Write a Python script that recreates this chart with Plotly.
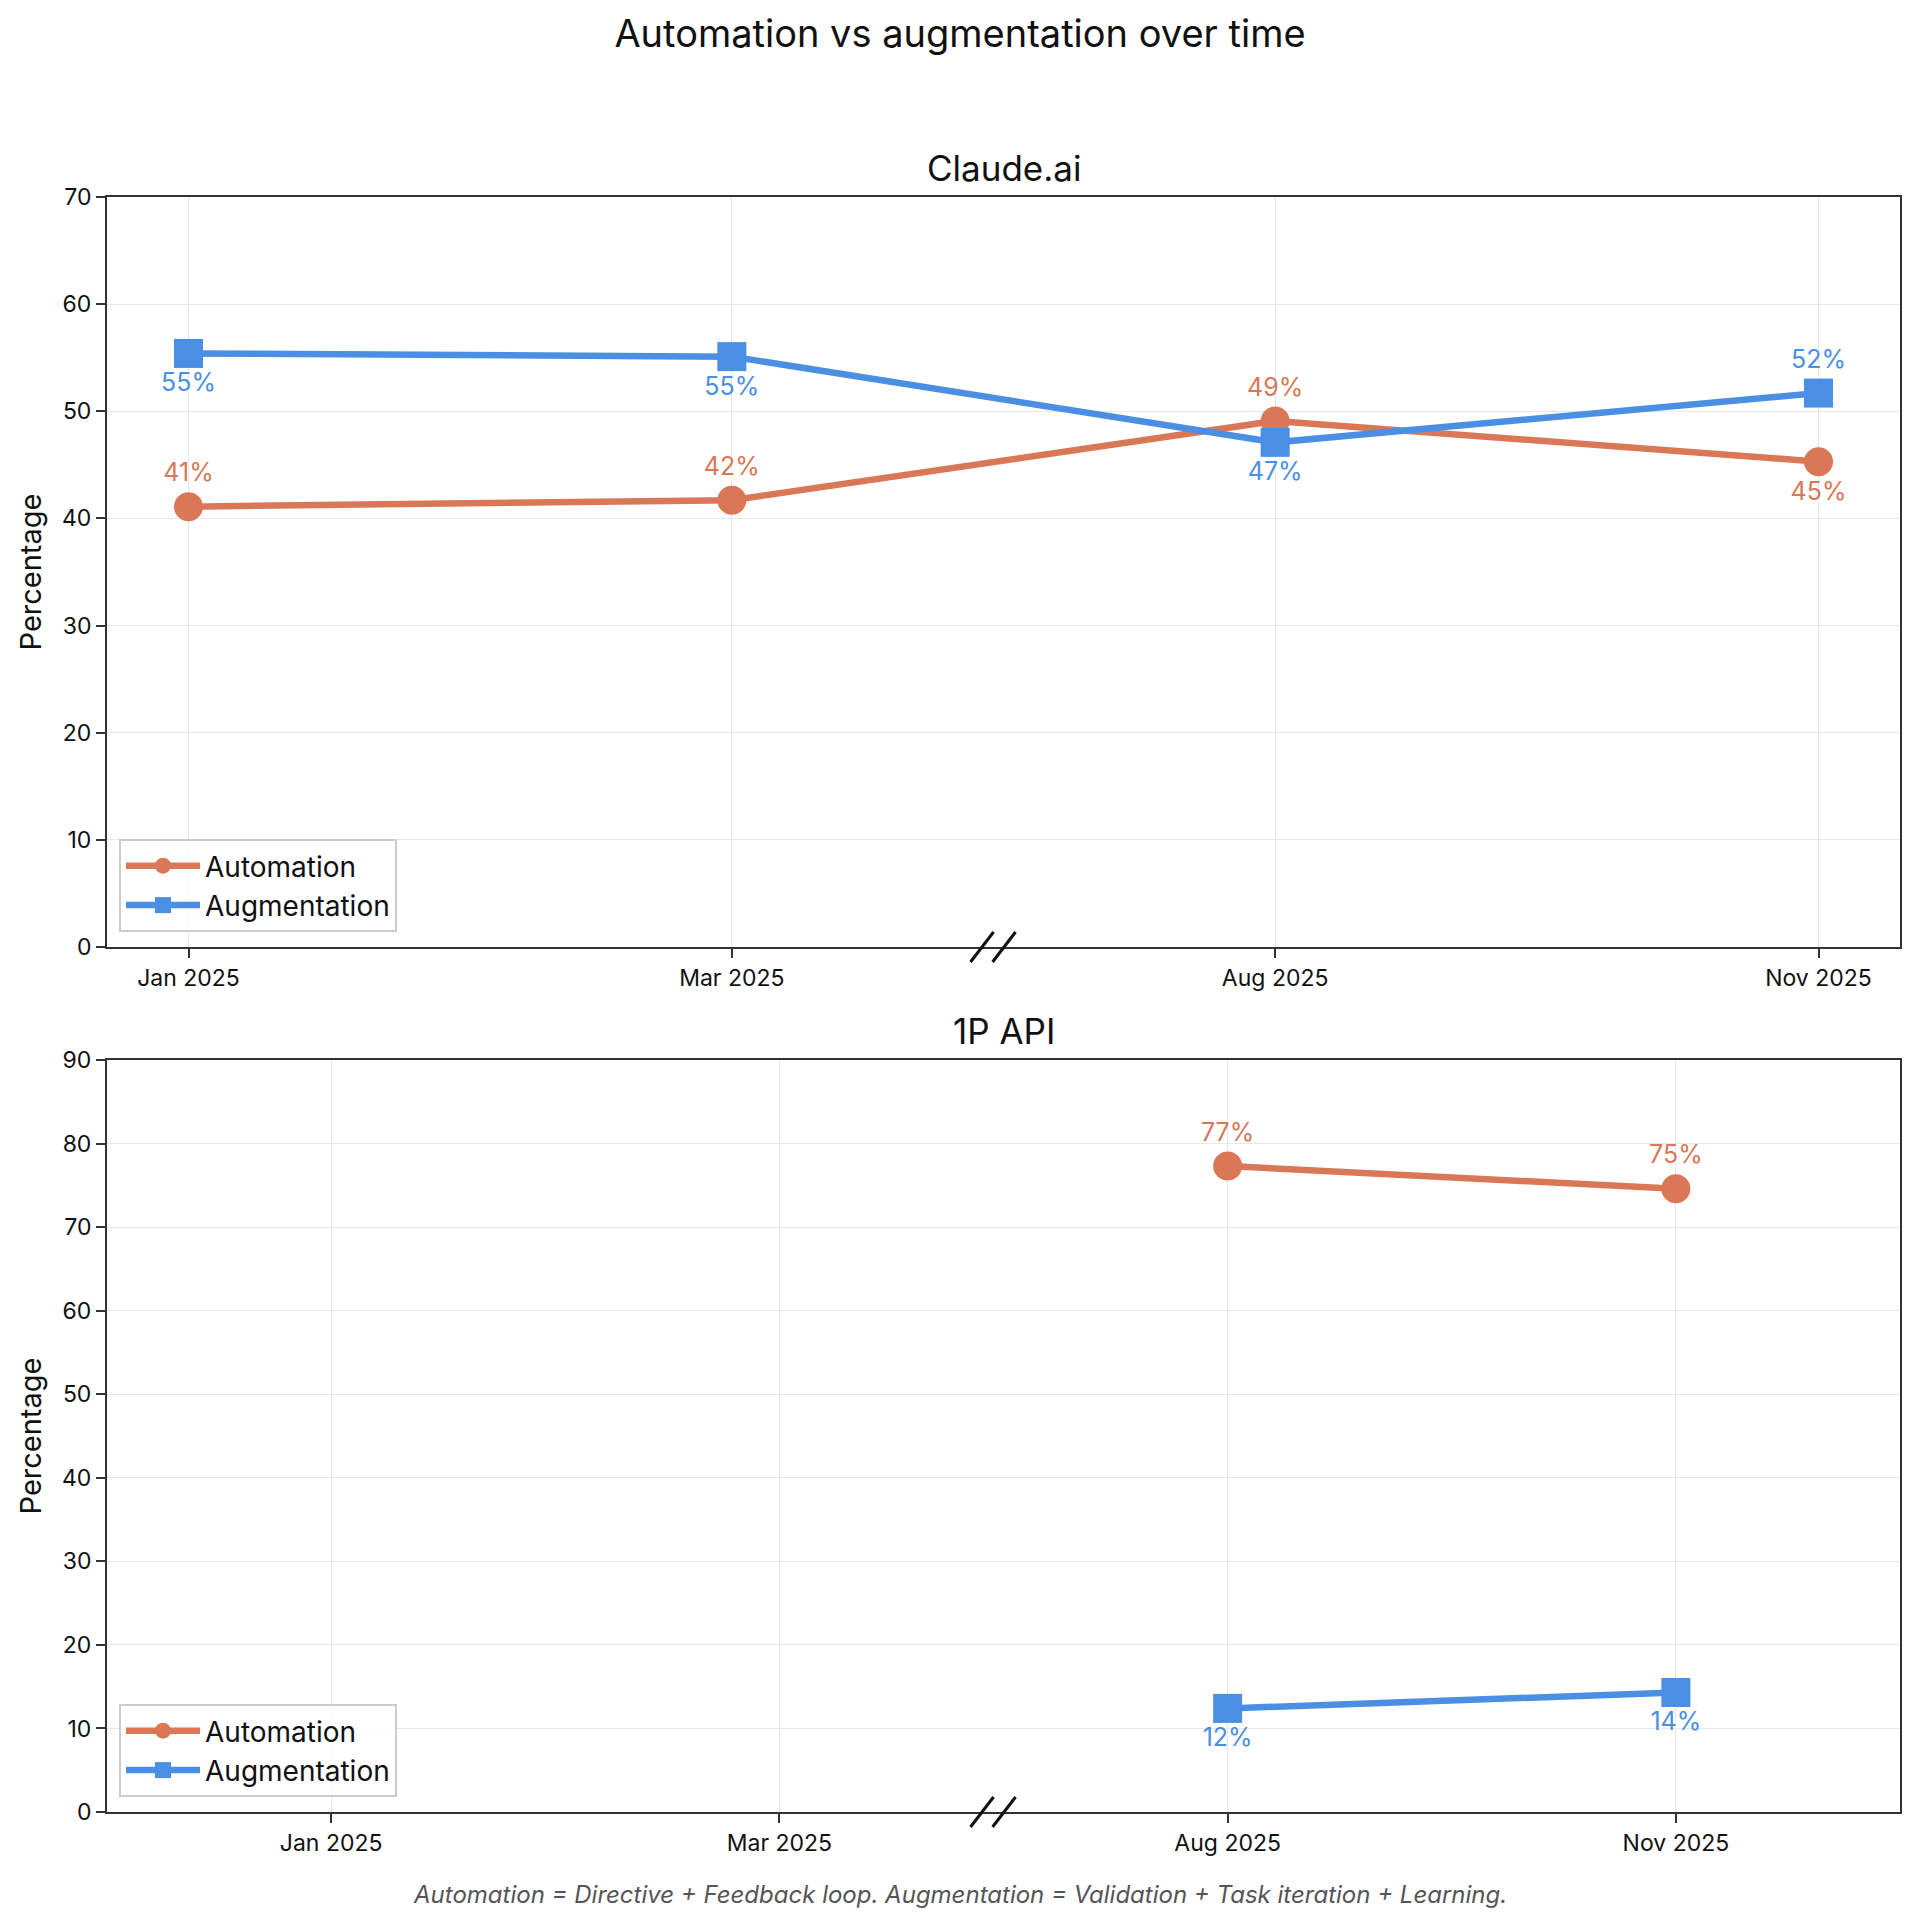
import plotly.graph_objects as go
from plotly.subplots import make_subplots

# ---- data ----
periods = ["Jan 2025", "Mar 2025", "Aug 2025", "Nov 2025"]

claude_automation = [41.1, 41.7, 49.1, 45.3]
claude_augmentation = [55.4, 55.1, 47.1, 51.7]
claude_automation_labels = ["41%", "42%", "49%", "45%"]
claude_augmentation_labels = ["55%", "55%", "47%", "52%"]

api_periods = ["Aug 2025", "Nov 2025"]
api_automation = [77.3, 74.6]
api_augmentation = [12.4, 14.3]
api_automation_labels = ["77%", "75%"]
api_augmentation_labels = ["12%", "14%"]

title_text = "Automation vs augmentation over time"
subplot_titles = ["Claude.ai", "1P API"]
footnote = "Automation = Directive + Feedback loop. Augmentation = Validation + Task iteration + Learning."

# ---- style ----
ORANGE = "#D97757"
BLUE = "#4A8FE3"
FONT = "Inter"
OFF = 8  # page body margin
W, H = 1920 - OFF, 1929 - OFF

# target pixel positions (page coordinates)
PL, PR = 107, 1900
TOP1, BOT1 = 197, 947
TOP2, BOT2 = 1060, 1812

idx = {p: i for i, p in enumerate(periods)}
x_claude = list(range(len(periods)))
x_api = [idx[p] for p in api_periods]

fig = make_subplots(rows=2, cols=1, subplot_titles=subplot_titles, vertical_spacing=0.07)

def add_series(row, x, y, labels, name, color, symbol, positions, legend):
    fig.add_trace(go.Scatter(
        x=x, y=y, mode="lines+markers+text", name=name,
        text=labels, textposition=positions,
        textfont=dict(color=color, size=25, family=FONT),
        line=dict(color=color, width=6.5),
        marker=dict(color=color, size=29, symbol=symbol),
        legend=legend, cliponaxis=False,
    ), row=row, col=1)

add_series(1, x_claude, claude_automation, claude_automation_labels, "Automation", ORANGE, "circle",
           ["top center", "top center", "top center", "bottom center"], "legend")
add_series(1, x_claude, claude_augmentation, claude_augmentation_labels, "Augmentation", BLUE, "square",
           ["bottom center", "bottom center", "bottom center", "top center"], "legend")
add_series(2, x_api, api_automation, api_automation_labels, "Automation", ORANGE, "circle",
           ["top center", "top center"], "legend2")
add_series(2, x_api, api_augmentation, api_augmentation_labels, "Augmentation", BLUE, "square",
           ["bottom center", "bottom center"], "legend2")

axis_common = dict(
    showline=True, linecolor="#333333", linewidth=2, mirror=True,
    ticks="outside", ticklen=9, tickwidth=1.5, tickcolor="#333333",
    showgrid=True, gridcolor="#E8E8E8", gridwidth=1,
    tickfont=dict(size=23, family=FONT, color="#111111"), zeroline=False,
)

fig.update_xaxes(**axis_common, tickvals=x_claude, ticktext=periods)
fig.update_xaxes(range=[-0.15, 3.15], row=1, col=1)
fig.update_xaxes(range=[-0.5, 3.5], row=2, col=1)
fig.update_yaxes(**axis_common, dtick=10,
                 title=dict(text="Percentage", font=dict(size=29, family=FONT, color="#111111"), standoff=12))
fig.update_yaxes(range=[0, 70], row=1, col=1)
fig.update_yaxes(range=[0, 90], row=2, col=1)

m_l, m_r = PL - OFF, 1920 - PR
m_t, m_b = TOP1 - OFF, 1929 - BOT2
ph = BOT2 - TOP1
pw = PR - PL
d2_top = (BOT2 - TOP2) / ph
fig.update_layout(
    yaxis=dict(domain=[(BOT2 - BOT1) / ph, 1]),
    yaxis2=dict(domain=[0, d2_top]),
)

# subplot title fonts
for ann in fig.layout.annotations:
    ann.font = dict(size=35, family=FONT, color="#111111")
    ann.yshift = 6
fig.layout.annotations[0].y = 1
fig.layout.annotations[1].y = d2_top

# axis break marks
for xr, yr in [("x domain", "y domain"), ("x2 domain", "y2 domain")]:
    for x0 in (-24, -2):
        fig.add_shape(type="line", xref=xr, yref=yr, xsizemode="pixel", ysizemode="pixel",
                      xanchor=0.495, yanchor=0, x0=x0, x1=x0 + 23, y0=-15, y1=15,
                      line=dict(color="#111111", width=3), layer="above")

fig.add_annotation(text=footnote, xref="paper", yref="paper",
                   x=(960 - PL) / pw, y=(BOT2 - 1894) / ph,
                   showarrow=False, xanchor="center", yanchor="middle",
                   font=dict(size=24, family=FONT, color="#555555", style="italic"))

legend_common = dict(
    bgcolor="rgba(255,255,255,0.85)", bordercolor="#CCCCCC", borderwidth=2,
    font=dict(size=28, family=FONT, color="#111111"),
    xanchor="left", yanchor="bottom", tracegroupgap=0, itemwidth=74,
)
fig.update_layout(
    width=W, height=H,
    margin=dict(l=m_l, r=m_r, t=m_t, b=m_b),
    paper_bgcolor="white", plot_bgcolor="white",
    title=dict(text=title_text, x=(960 - OFF) / W, xanchor="center", y=1 - (34 - OFF) / H, yanchor="middle",
               font=dict(size=38, family=FONT, color="#111111")),
    legend=dict(**legend_common, x=(119 - PL) / pw, y=(BOT2 - 932) / ph),
    legend2=dict(**legend_common, x=(119 - PL) / pw, y=(BOT2 - 1797) / ph),
    font=dict(family=FONT),
)

fig.write_html("out.html")
